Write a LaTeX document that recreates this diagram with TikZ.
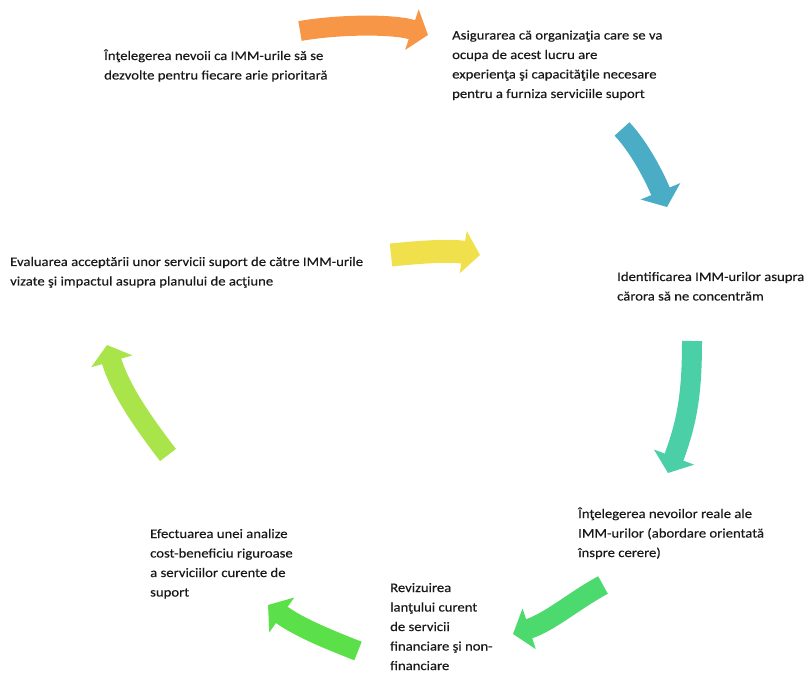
\documentclass[tikz,border=0pt]{standalone}
\usepackage{fontspec}
\setmainfont{Carlito}[FakeStretch=1.13,FakeBold=0.35]
\usetikzlibrary{arrows.meta}
\definecolor{corange}{RGB}{247,150,70}
\definecolor{cblue}{RGB}{75,172,198}
\definecolor{cteal}{RGB}{74,207,166}
\definecolor{cgreenA}{RGB}{76,217,110}
\definecolor{cgreenB}{RGB}{91,224,74}
\definecolor{clime}{RGB}{168,228,74}
\definecolor{cyellow}{RGB}{240,224,76}
\begin{document}
\begin{tikzpicture}[x=1pt,y=-1pt,
  band/.style={line width=20pt, line cap=butt, -{Triangle[width=42pt,length=17pt]}},
  lbl/.style={anchor=base west, align=left, inner sep=0pt, text=black!90,
    font=\fontsize{13}{19.5}\selectfont}]
\useasboundingbox (0,0) rectangle (806,676);

% anchors are at the baseline of the LAST line of each block
\node[lbl] (t1) at (104,79.5) {Înţelegerea nevoii ca IMM-urile să se\\dezvolte pentru fiecare arie prioritară};
\node[lbl] (t2) at (452,98) {Asigurarea că organizaţia care se va\\ocupa de acest lucru are\\experienţa şi capacităţile necesare\\pentru a furniza serviciile suport};
\node[lbl] (t3) at (617,300.5) {Identificarea IMM-urilor asupra\\cărora să ne concentrăm};
\node[lbl] (t4) at (578,557) {Înţelegerea nevoilor reale ale\\IMM-urilor (abordare orientată\\înspre cerere)};
\node[lbl] (t5) at (390,670) {Revizuirea\\lanţului curent\\de servicii\\financiare şi non-\\financiare};
\node[lbl] (t6) at (150,596.5) {Efectuarea unei analize\\cost-beneficiu riguroase\\a serviciilor curente de\\suport};
\node[lbl] (t7) at (10,285.5) {Evaluarea acceptării unor servicii suport de către IMM-urile\\vizate şi impactul asupra planului de acţiune};

\coordinate (a1s) at (300,31);  \coordinate (a1e) at (428,35);
\coordinate (a2s) at (622,129); \coordinate (a2e) at (667,207);
\coordinate (a3s) at (692,341); \coordinate (a3e) at (668,473);
\coordinate (a4s) at (603,585); \coordinate (a4e) at (513,634);
\coordinate (a5s) at (358,651); \coordinate (a5e) at (268,605);
\coordinate (a6s) at (168,455); \coordinate (a6e) at (107,345);
\coordinate (a7s) at (391,255); \coordinate (a7e) at (480,255);

\draw[band, corange] (a1s) .. controls (340,24) and (395,24) .. (a1e);
\draw[band, cblue] (a2s) .. controls (640,148) and (655,178) .. (a2e);
\draw[band, cteal] (a3s) .. controls (692,390) and (688,420) .. (a3e);
\draw[band, cgreenA] (a4s) .. controls (575,600) and (550,622) .. (a4e);
\draw[band, cgreenB] (a5s) .. controls (330,640) and (300,628) .. (a5e);
\draw[band, clime] (a6s) .. controls (145,425) and (120,390) .. (a6e);
\draw[band, cyellow, line width=23pt] (a7s) .. controls (420,252) and (450,250) .. (a7e);
\end{tikzpicture}
\end{document}
